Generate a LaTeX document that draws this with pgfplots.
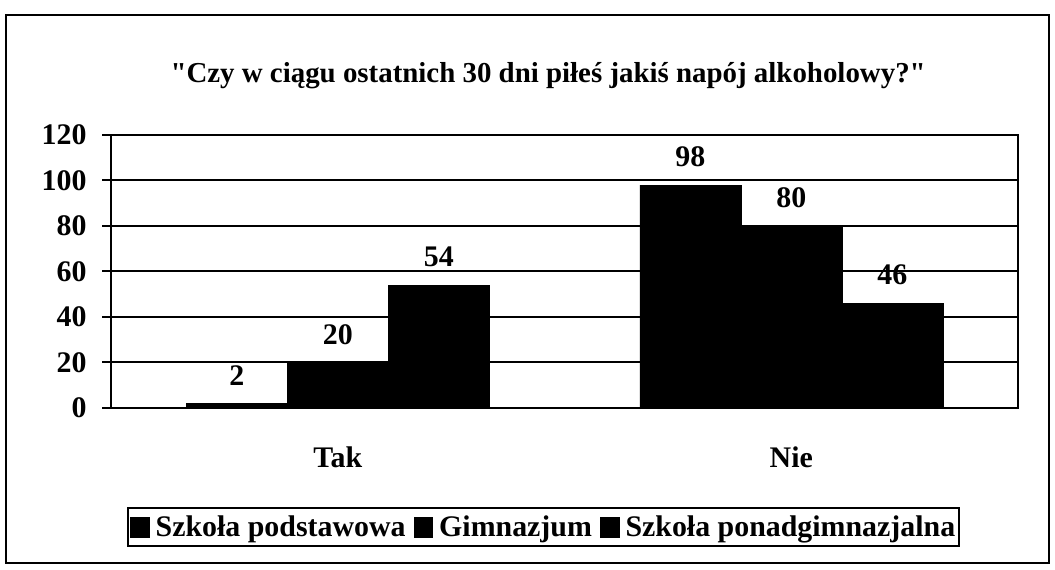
\documentclass[border=0pt]{standalone}
\usepackage{fontspec}
\setmainfont{Liberation Serif}[Ligatures=TeXOff]
\usepackage{pgfplots}
\pgfplotsset{compat=1.18}

\newcommand{\lbl}{\bfseries\fontsize{30}{32}\selectfont}

\begin{document}
\begin{tikzpicture}[x=1bp,y=1bp]
\useasboundingbox (0,0) rectangle (1055,570);
\draw[line width=1.2bp] (6,7) rectangle (1049,555);
\coordinate (org) at (111,162);
\begin{axis}[
  at={(org)}, anchor=south west,
  scale only axis, width=907bp, height=273bp,
  ybar=0pt, bar width=101bp,
  xmin=-0.5, xmax=1.5, ymin=0, ymax=120,
  ytick={0,20,...,120}, ytick pos=left,
  xtick={0,1}, xticklabels={Tak,Nie},
  extra x ticks={-0.5,0.5,1.5}, extra x tick labels={},
  extra x tick style={major tick length=10bp, tick align=outside, tick style={line width=2bp, black}},
  x tick style={draw=none},
  y tick style={line width=2bp, black},
  ytick align=outside, major tick length=9bp,
  ymajorgrids, grid style={line width=2bp, black},
  axis line style={line width=2bp},
  /pgf/number format/assume math mode=true,
  tick label style={font=\lbl},
  xticklabel style={yshift=-26bp},
  yticklabel style={xshift=-12bp},
  title={"Czy w ciągu ostatnich 30 dni piłeś jakiś napój alkoholowy?"},
  title style={font=\bfseries\fontsize{29}{31}\selectfont, at={(0.482,1.195)}, anchor=center},
  nodes near coords,
  every node near coord/.append style={font=\lbl, anchor=south, inner sep=0pt, yshift=18bp},
  legend columns=3,
  legend style={at={(0.477,-0.436)}, anchor=center, draw=black, line width=1.6bp,
    font=\lbl, inner xsep=2bp, inner ysep=6bp,
    /tikz/every even column/.append style={column sep=6bp},
    /tikz/every odd column/.append style={column sep=4bp}},
  legend image code/.code={\fill[black] (0bp,-10bp) rectangle (18bp,9bp);},
]
\addplot[fill=black, draw=black] coordinates {(0,2) (1,98)};
\addplot[fill=black, draw=black] coordinates {(0,20) (1,80)};
\addplot[fill=black, draw=black] coordinates {(0,54) (1,46)};
\legend{Szkoła podstawowa, Gimnazjum, Szkoła ponadgimnazjalna}
\end{axis}
\end{tikzpicture}
\end{document}
